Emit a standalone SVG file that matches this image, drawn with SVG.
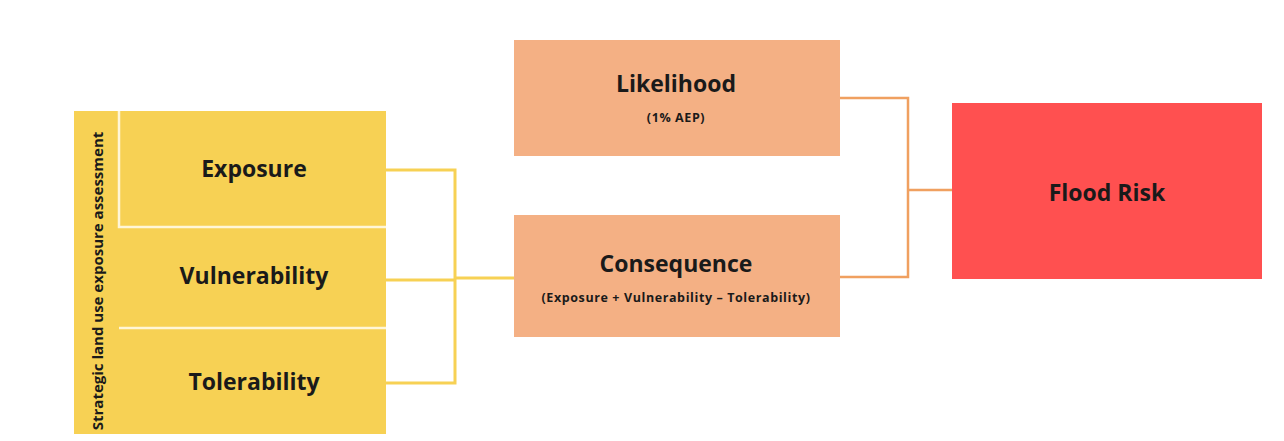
<svg xmlns="http://www.w3.org/2000/svg" width="1284" height="441" viewBox="0 0 1284 441">
<style>
.t{font-family:"Open Sans","Liberation Sans",sans-serif;font-weight:bold;fill:#1a1a1a;text-anchor:middle;dominant-baseline:central}
.big{font-size:23px}
.sm{font-size:12.5px;letter-spacing:0.6px}
.y{fill:#F7D154}
.p{fill:#F4B084}
.cy{fill:none;stroke:#F7D154;stroke-width:3}
.co{fill:none;stroke:#F0A060;stroke-width:2.5}
.div{stroke:#FFF6D8;stroke-width:2.5;fill:none}
</style>
<rect width="1284" height="441" fill="#FFFFFF"/>
<g id="connectors">
<path class="cy" d="M386 170 H455 V383 H386 M386 280 H455 M455 278 H514"/>
<path class="co" d="M840 98 H908 V277 H840 M908 190 H952"/>
</g>
<g id="assessment">
<rect class="y" x="74" y="111" width="312" height="323"/>
<path class="div" d="M119 111 V227 H386 M119 328 H386"/>
<text class="t" font-size="15" transform="translate(97 281) rotate(-90)">Strategic land use exposure assessment</text>
</g>
<g id="exposure"><text class="t big" x="254" y="168">Exposure</text></g>
<g id="vulnerability"><text class="t big" x="254" y="275">Vulnerability</text></g>
<g id="tolerability"><text class="t big" x="254" y="381">Tolerability</text></g>
<g id="likelihood">
<rect class="p" x="514" y="40" width="326" height="116"/>
<text class="t big" x="676" y="83">Likelihood</text>
<text class="t sm" x="676" y="117">(1% AEP)</text>
</g>
<g id="consequence">
<rect class="p" x="514" y="215" width="326" height="122"/>
<text class="t big" x="676" y="263">Consequence</text>
<text class="t sm" x="676" y="297">(Exposure + Vulnerability – Tolerability)</text>
</g>
<g id="floodrisk">
<rect x="952" y="103" width="310" height="176" fill="#FF5050"/>
<text class="t big" x="1107" y="192">Flood Risk</text>
</g>
</svg>
